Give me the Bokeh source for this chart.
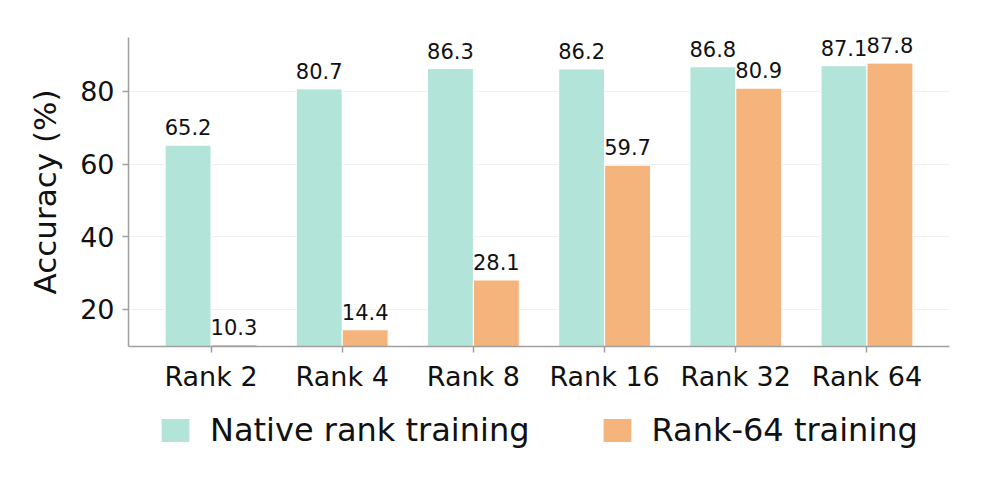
from bokeh.plotting import figure
from bokeh.models import (ColumnDataSource, FactorRange, Range1d, FixedTicker,
                          Legend, LegendItem, LabelSet)
from bokeh.core.properties import value
from bokeh.transform import dodge
from bokeh.layouts import column
from bokeh.embed import file_html
from bokeh.resources import INLINE

categories = ["Rank 2", "Rank 4", "Rank 8", "Rank 16", "Rank 32", "Rank 64"]
native = [65.2, 80.7, 86.3, 86.2, 86.8, 87.1]
rank64 = [10.3, 14.4, 28.1, 59.7, 80.9, 87.8]
series_names = ["Native rank training", "Rank-64 training"]
y_ticks = [20, 40, 60, 80]

FONT = "DejaVu Sans"
GREEN = "#b3e4d9"
ORANGE = "#f5b47b"
AXIS_GRAY = "#a0a0a0"
TXT = "#111111"

source = ColumnDataSource(dict(
    cat=categories,
    native=native,
    rank64=rank64,
    native_lbl=[f"{v:.1f}" for v in native],
    rank64_lbl=[f"{v:.1f}" for v in rank64],
))

p = figure(width=981, height=400,
           x_range=FactorRange(*categories, range_padding=0.043),
           y_range=Range1d(9.8, 94.85),
           output_backend="svg", toolbar_location=None,
           min_border_left=128, min_border_right=32,
           min_border_top=37, min_border_bottom=54)
p.outline_line_color = None
p.background_fill_color = "white"
p.border_fill_color = "white"

bw = 0.35
p.vbar(x=dodge("cat", -bw / 2, range=p.x_range), top="native", bottom=0,
       width=bw, source=source, fill_color=GREEN, line_color="white",
       line_width=1)
p.vbar(x=dodge("cat", bw / 2, range=p.x_range), top="rank64", bottom=0,
       width=bw, source=source, fill_color=ORANGE, line_color="white",
       line_width=1)

for col, off in (("native", -bw / 2), ("rank64", bw / 2)):
    lbl = LabelSet(x=dodge("cat", off, range=p.x_range), y=col,
                   text=col + "_lbl", source=source,
                   text_align="center", text_baseline="alphabetic",
                   y_offset=10, text_font=value(FONT),
                   text_font_size=value("21px"), text_color=TXT)
    p.add_layout(lbl)

# axes
for ax in (p.xaxis, p.yaxis):
    ax.axis_line_color = AXIS_GRAY
    ax.axis_line_width = 1.5
    ax.major_tick_line_color = AXIS_GRAY
    ax.major_tick_line_width = 1.5
    ax.major_tick_out = 6
    ax.major_tick_in = 0
    ax.minor_tick_line_color = None
    ax.major_label_text_font = FONT
    ax.major_label_text_font_size = "27px"
    ax.major_label_text_color = TXT
    ax.major_label_standoff = 8

p.yaxis.ticker = FixedTicker(ticks=y_ticks)
p.yaxis.axis_label = "Accuracy (%)"
p.yaxis.axis_label_text_font = FONT
p.yaxis.axis_label_text_font_size = "31px"
p.yaxis.axis_label_text_font_style = "normal"
p.yaxis.axis_label_text_color = TXT
p.yaxis.axis_label_standoff = 14

p.xgrid.grid_line_color = None
p.ygrid.grid_line_color = "#f0f0f0"
p.ygrid.grid_line_width = 1

# legend strip below the chart (its frame is aligned with the chart's frame)
lg = figure(width=981, height=82, x_range=Range1d(0, 1), y_range=Range1d(0, 1),
            output_backend="svg", toolbar_location=None,
            min_border_left=128, min_border_right=32,
            min_border_top=0, min_border_bottom=0)
lg.axis.visible = False
lg.grid.visible = False
lg.outline_line_color = None
dummy = ColumnDataSource(dict(x=[float("nan")], top=[float("nan")]))
g1 = lg.vbar(x="x", top="top", width=0.1, source=dummy,
             fill_color=GREEN, line_color="white", line_width=1)
g2 = lg.vbar(x="x", top="top", width=0.1, source=dummy,
             fill_color=ORANGE, line_color="white", line_width=1)
legend = Legend(items=[LegendItem(label=series_names[0], renderers=[g1]),
                       LegendItem(label=series_names[1], renderers=[g2])],
                orientation="horizontal", location=(29, 33),
                glyph_width=36, glyph_height=30, label_standoff=17,
                spacing=69, padding=0, margin=0,
                label_text_font=FONT, label_text_font_size="32px",
                label_text_color=TXT,
                border_line_color=None, background_fill_alpha=0)
lg.add_layout(legend)

layout = column(p, lg, spacing=0)
open("out.html", "w").write(file_html(layout, INLINE))
